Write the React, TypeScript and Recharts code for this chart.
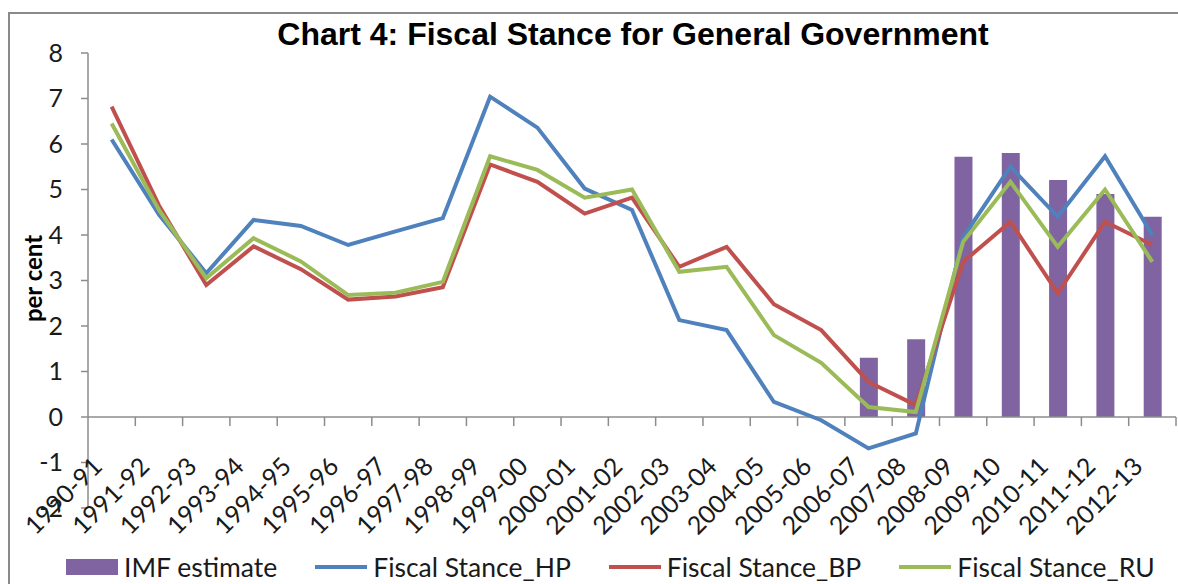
import React from 'react';
import { ComposedChart, Bar, Line, XAxis, YAxis, ReferenceLine, Legend } from 'recharts';

const years = [
  '1990-91', '1991-92', '1992-93', '1993-94', '1994-95', '1995-96', '1996-97', '1997-98',
  '1998-99', '1999-00', '2000-01', '2001-02', '2002-03', '2003-04', '2004-05', '2005-06',
  '2006-07', '2007-08', '2008-09', '2009-10', '2010-11', '2011-12', '2012-13',
];

const imfEstimate = [
  null, null, null, null, null, null, null, null, null, null, null, null, null, null, null, null,
  1.3, 1.71, 5.72, 5.8, 5.21, 4.9, 4.4,
];
const stanceHP = [
  6.1, 4.45, 3.16, 4.33, 4.2, 3.78, 4.08, 4.37, 7.04, 6.36, 5.02, 4.55, 2.13, 1.91, 0.33, -0.07,
  -0.69, -0.36, 3.95, 5.5, 4.4, 5.73, 4.0,
];
const stanceBP = [
  6.82, 4.65, 2.9, 3.75, 3.25, 2.58, 2.65, 2.85, 5.55, 5.17, 4.47, 4.82, 3.3, 3.74, 2.48, 1.91,
  0.77, 0.26, 3.41, 4.29, 2.72, 4.29, 3.78,
];
const stanceRU = [
  6.45, 4.55, 3.05, 3.93, 3.42, 2.68, 2.73, 2.97, 5.73, 5.43, 4.82, 5.0, 3.19, 3.3, 1.8, 1.19,
  0.22, 0.11, 3.85, 5.17, 3.74, 5.0, 3.41,
];

const yTicks = [-2, -1, 0, 1, 2, 3, 4, 5, 6, 7, 8];

// x is numeric so the category boundaries (tick marks on the zero line) can be addressed
const data = years.map((year, i) => ({
  x: i + 0.5,
  year,
  imf: imfEstimate[i],
  hp: stanceHP[i],
  bp: stanceBP[i],
  ru: stanceRU[i],
}));
const xTicks = data.map((d) => d.x);
const boundaries = years.map((_, i) => i + 1);

const COLORS = {
  imf: '#8064A2',
  hp: '#4F81BD',
  bp: '#C0504D',
  ru: '#9BBB59',
  axis: '#8c8c8c',
};

const FONT = 'Lato, "Open Sans", sans-serif';

const YearTick = ({ x, y, payload }: any) => {
  const label = years[Math.floor(payload.value)];
  const ax = x - 8;
  const ay = y - 40;
  return (
    <text
      x={ax}
      y={ay}
      transform={`rotate(-45 ${ax} ${ay})`}
      textAnchor="end"
      fontSize={25}
      fontFamily={FONT}
      fill="#1a1a1a"
    >
      {label}
    </text>
  );
};

const legendItems = [
  { key: 'imf', name: 'IMF estimate', type: 'rect' },
  { key: 'hp', name: 'Fiscal Stance_HP', type: 'line' },
  { key: 'bp', name: 'Fiscal Stance_BP', type: 'line' },
  { key: 'ru', name: 'Fiscal Stance_RU', type: 'line' },
];

const ChartLegend = () => (
  <div style={{ display: 'flex', alignItems: 'center', height: 34, paddingLeft: 18, gap: 38 }}>
    {legendItems.map((item) => (
      <div key={item.key} style={{ display: 'flex', alignItems: 'center' }}>
        <svg width={52} height={18} style={{ marginRight: 6 }}>
          {item.type === 'rect' ? (
            <rect x={0} y={1} width={52} height={16} fill={(COLORS as any)[item.key]} />
          ) : (
            <line x1={0} y1={9} x2={52} y2={9} stroke={(COLORS as any)[item.key]} strokeWidth={4} />
          )}
        </svg>
        <span style={{ fontFamily: FONT, fontSize: 26.5, color: '#1a1a1a', whiteSpace: 'nowrap' }}>
          {item.name}
        </span>
      </div>
    ))}
  </div>
);

export default function App() {
  return (
    <div style={{ position: 'absolute', left: 0, top: 0, width: 1178, height: 584, overflow: 'hidden', background: '#fff' }}>
      <div
        style={{
          position: 'absolute',
          left: 8,
          top: 12,
          width: 1300,
          height: 700,
          border: '2px solid #8a8a8a',
        }}
      />
      <div
        style={{
          position: 'absolute',
          left: 633,
          top: 16,
          transform: 'translateX(-50%)',
          whiteSpace: 'nowrap',
          fontFamily: '"Liberation Sans", Arial, sans-serif',
          fontWeight: 'bold',
          fontSize: 32,
          lineHeight: '36px',
          color: '#000',
        }}
      >
        Chart 4: Fiscal Stance for General Government
      </div>
      <div style={{ position: 'absolute', left: 0, top: 0 }}>
        <ComposedChart width={1178} height={584} data={data} margin={{ top: 53, right: 2, bottom: 0, left: 48 }}>
          <XAxis
            dataKey="x"
            type="number"
            domain={[0, 23]}
            ticks={xTicks}
            interval={0}
            axisLine={false}
            tickLine={false}
            tickSize={0}
            tickMargin={0}
            height={42}
            tick={<YearTick />}
          />
          <YAxis
            domain={[-2, 8]}
            ticks={yTicks}
            interval={0}
            width={40}
            axisLine={{ stroke: COLORS.axis, strokeWidth: 1.5 }}
            tickLine={{ stroke: COLORS.axis, strokeWidth: 1.5 }}
            tickSize={7}
            tickMargin={18}
            tick={{ fontSize: 25, fontFamily: FONT, fill: '#1a1a1a' }}
            label={({ viewBox }: any) => (
              <text
                x={viewBox.x - 16}
                y={viewBox.y + viewBox.height / 2 - 2}
                transform={`rotate(-90 ${viewBox.x - 16} ${viewBox.y + viewBox.height / 2 - 2})`}
                textAnchor="middle"
                dominantBaseline="central"
                fontSize={24}
                fontWeight="bold"
                fontFamily={FONT}
                fill="#000"
              >
                per cent
              </text>
            )}
          />
          <ReferenceLine y={0} stroke={COLORS.axis} strokeWidth={1.5} />
          {boundaries.map((b) => (
            <ReferenceLine
              key={b}
              segment={[{ x: b, y: 0 }, { x: b, y: -0.2 }]}
              stroke={COLORS.axis}
              strokeWidth={1.5}
            />
          ))}
          <Bar dataKey="imf" name="IMF estimate" fill={COLORS.imf} barSize={18} isAnimationActive={false} />
          <Line type="linear" dataKey="hp" name="Fiscal Stance_HP" stroke={COLORS.hp} strokeWidth={4} dot={false} isAnimationActive={false} />
          <Line type="linear" dataKey="bp" name="Fiscal Stance_BP" stroke={COLORS.bp} strokeWidth={4} dot={false} isAnimationActive={false} />
          <Line type="linear" dataKey="ru" name="Fiscal Stance_RU" stroke={COLORS.ru} strokeWidth={4} dot={false} isAnimationActive={false} />
          <Legend verticalAlign="bottom" content={<ChartLegend />} wrapperStyle={{ height: 34 }} />
        </ComposedChart>
      </div>
    </div>
  );
}
